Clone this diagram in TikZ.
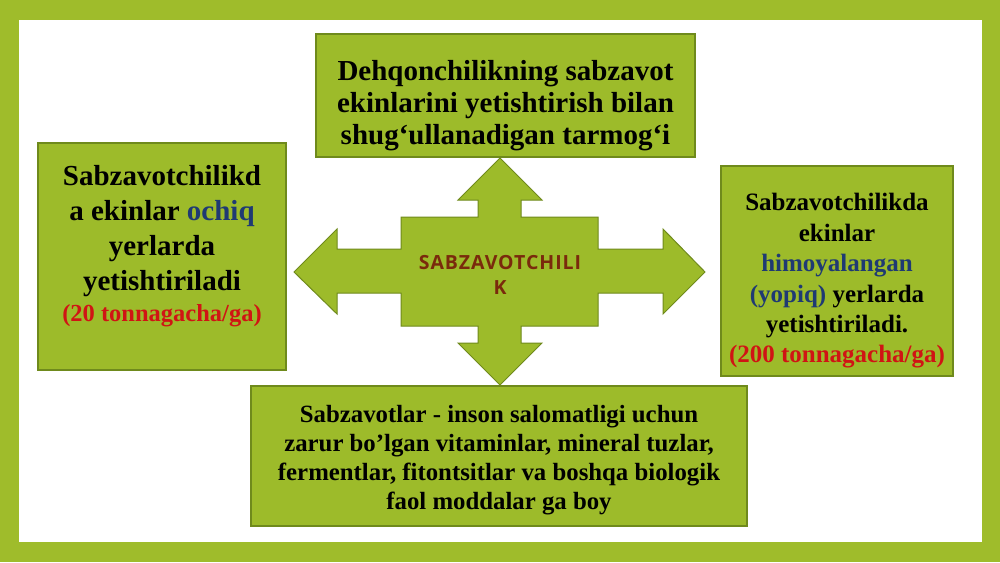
\documentclass[tikz,border=0pt]{standalone}
\usepackage{fontspec}
\setmainfont{Liberation Serif}
\newfontfamily\crossfont[LetterSpace=5]{Open Sans}
\definecolor{framegreen}{HTML}{9FBC2B}
\definecolor{boxgreen}{HTML}{9DBB2A}
\definecolor{boxedge}{HTML}{6F8A1C}
\definecolor{txtblue}{HTML}{1F3A73}
\definecolor{txtred}{HTML}{D01414}
\definecolor{txtbrown}{HTML}{7A2A0C}
\tikzset{
  gbox/.style={draw=boxedge, line width=1.4pt, fill=boxgreen, inner sep=0pt},
  gtext/.style={align=center, inner sep=0pt},
}
\begin{document}
\begin{tikzpicture}[x=1pt,y=-1pt]
\useasboundingbox (0,0) rectangle (1000,562);
\fill[framegreen] (0,0) rectangle (1000,562);
\fill[white] (19,20) rectangle (982,542);
% cross shape
\draw[boxedge, line width=1pt, fill=boxgreen]
 (500,158) -- (542,200) -- (521,200) -- (521,217) -- (598,217) -- (598,249) -- (663,249) -- (663,229)
 -- (705,272) -- (663,314) -- (663,293) -- (598,293) -- (598,326) -- (521,326) -- (521,343) -- (542,343)
 -- (500,385) -- (458,343) -- (478,343) -- (478,326) -- (401,326) -- (401,293) -- (337,293) -- (337,314)
 -- (294,272) -- (337,229) -- (337,249) -- (401,249) -- (401,217) -- (478,217) -- (478,200) -- (458,200) -- cycle;
\node[text=txtbrown, align=center, font=\crossfont\bfseries\fontsize{19.5}{25}\selectfont] (center) at (500,275) {SABZAVOTCHILI\\K};
% boxes
\node[gbox, minimum width=379pt, minimum height=123pt] (top) at (505.5,95.5) {};
\node[gtext, font=\bfseries\fontsize{29}{32}\selectfont] (toptext) at ([yshift=-10pt]top.center)
 {Dehqonchilikning sabzavot\\ekinlarini yetishtirish bilan\\shug‘ullanadigan tarmog‘i};
\node[gbox, minimum width=248pt, minimum height=227pt] (left) at (162,256.5) {};
\node[gtext, font=\bfseries\fontsize{29}{35}\selectfont] (lefttext) at ([yshift=10pt]left.center)
 {Sabzavotchilikd\\a ekinlar \textcolor{txtblue}{ochiq}\\yerlarda\\yetishtiriladi\\[-4pt]{\color{txtred}\fontsize{24.5}{26}\selectfont (20 tonnagacha/ga)}};
\node[gbox, minimum width=232pt, minimum height=210pt] (right) at (837,271) {};
\node[gtext, font=\bfseries\fontsize{25}{30.4}\selectfont] (righttext) at ([yshift=-10pt]right.center)
 {Sabzavotchilikda\\ekinlar\\\textcolor{txtblue}{himoyalangan}\\\textcolor{txtblue}{(yopiq)} yerlarda\\yetishtiriladi.\\\textcolor{txtred}{(200 tonnagacha/ga)}};
\node[gbox, minimum width=496pt, minimum height=140pt] (bottom) at (499,456) {};
\node[gtext, font=\bfseries\fontsize{24.8}{29}\selectfont] (bottomtext) at ([yshift=-4pt]bottom.center)
 {Sabzavotlar - inson salomatligi uchun\\zarur bo’lgan vitaminlar, mineral tuzlar,\\fermentlar, fitontsitlar va boshqa biologik\\faol moddalar ga boy};
\end{tikzpicture}
\end{document}
